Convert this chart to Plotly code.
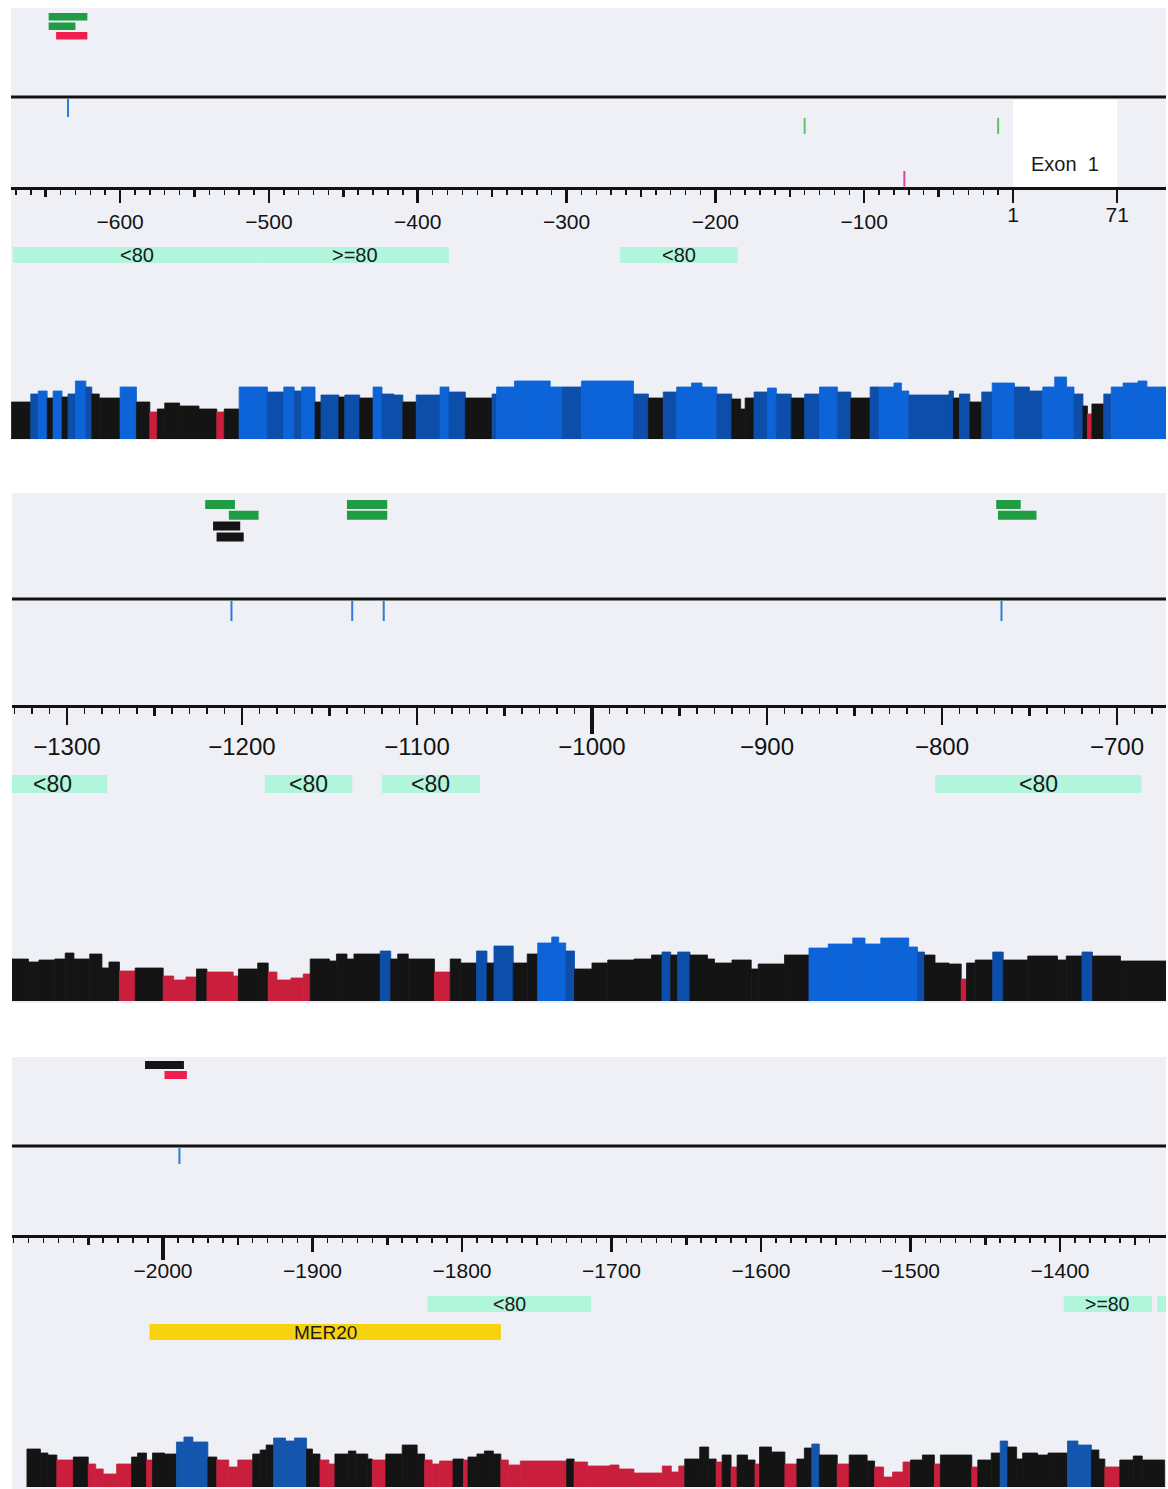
import plotly.graph_objects as go

W, H = 1168, 1489

# ====================== DATA ======================
# Panel A  (axis value 0 = position +1, i.e. 70 = +71)
a_tick_vals = [-600, -500, -400, -300, -200, -100]
a_tick_text = ["−600", "−500", "−400", "−300", "−200", "−100"]
a_exon_tick_vals = [0, 70]
a_exon_tick_text = ["1", "71"]
a_seg_start = [-673, -660, -655, -649, -645, -639, -635, -630, -623, -619, -614, -600, -589, -580, -575,
               -570, -560, -547, -535, -530, -520, -501, -490, -483, -478, -469, -465, -453, -449, -439,
               -430, -424, -416, -410, -401, -385, -379, -368, -350, -347, -335, -311, -303, -290, -255,
               -245, -235, -226, -216, -209, -199, -189, -183, -180, -174, -165, -159, -149, -140, -130,
               -118, -109, -96, -90, -80, -75, -70, -43, -40, -36, -29, -21, -14, 1, 11,
               20, 28, 36, 41, 47, 50, 53, 61, 66, 74, 84, 90]
a_seg_height = [37, 45, 48, 41, 48, 42, 45, 58, 52, 45, 41, 52, 37, 27, 30,
                36, 33, 30, 27, 30, 52, 47, 52, 48, 52, 37, 44, 42, 44, 41,
                52, 45, 44, 37, 44, 52, 47, 41, 45, 52, 58, 52, 52, 58, 45,
                41, 47, 52, 56, 52, 45, 40, 30, 41, 47, 51, 45, 41, 45, 52,
                47, 41, 52, 52, 56, 48, 44, 48, 41, 45, 37, 47, 56, 52, 48,
                52, 62, 52, 45, 33, 25, 35, 45, 52, 56, 58, 52]
a_seg_class = ["K", "D", "B", "K", "B", "K", "D", "B", "D", "K", "K", "B", "K", "R", "K",
               "K", "K", "K", "R", "K", "B", "D", "B", "D", "B", "K", "D", "K", "D", "K",
               "B", "D", "D", "K", "D", "B", "D", "K", "D", "B", "B", "B", "D", "B", "D",
               "K", "D", "B", "B", "B", "D", "K", "K", "K", "D", "B", "D", "K", "D", "B",
               "D", "K", "D", "B", "B", "B", "D", "D", "K", "D", "K", "D", "B", "D", "D",
               "B", "B", "B", "D", "K", "R", "K", "D", "B", "B", "B", "B"]
a_seg_stop = 103
a_site_start = [-648, -648, -643]
a_site_end = [-622, -630, -622]
a_site_class = ["G", "G", "R"]
a_site_row = [0, 1, 2]
a_snp = [-635]
a_green_mark = [-140, -10]
a_pink_mark = [-73]
a_exon_start, a_exon_end, a_exon_label = 0, 70, "Exon  1"
a_cons_start = [-672, -505, -264]
a_cons_end = [-505, -379, -185]
a_cons_label = ["<80", ">=80", "<80"]

# Panel B
b_tick_vals = [-1300, -1200, -1100, -1000, -900, -800, -700]
b_tick_text = ["−1300", "−1200", "−1100", "−1000", "−900", "−800", "−700"]
b_seg_start = [-1332, -1322, -1316, -1307, -1301, -1296, -1287, -1280, -1276, -1270, -1261, -1245, -1239, -1232, -1226,
               -1220, -1205, -1202, -1191, -1185, -1180, -1172, -1165, -1161, -1150, -1146, -1140, -1136, -1121, -1115,
               -1111, -1105, -1090, -1081, -1075, -1066, -1060, -1056, -1045, -1037, -1031, -1023, -1019, -1015, -1010,
               -1000, -991, -976, -966, -960, -955, -951, -944, -934, -930, -920, -909, -905, -890, -876,
               -865, -851, -844, -835, -819, -814, -810, -804, -796, -789, -786, -781, -771, -765, -751,
               -734, -729, -720, -714, -698]
b_seg_height = [42, 39, 41, 42, 48, 42, 47, 33, 39, 30, 33, 25, 21, 24, 32,
                29, 25, 32, 38, 29, 21, 23, 27, 42, 40, 47, 42, 47, 50, 42,
                47, 42, 29, 42, 38, 50, 38, 55, 38, 47, 58, 64, 58, 50, 32,
                38, 41, 42, 46, 49, 46, 49, 46, 42, 38, 41, 32, 37, 46, 53,
                57, 63, 57, 63, 54, 49, 46, 38, 37, 22, 38, 41, 49, 41, 45,
                41, 45, 49, 45, 40]
b_seg_class = ["K", "K", "K", "K", "K", "K", "K", "K", "K", "R", "K", "R", "R", "R", "K",
               "R", "R", "K", "K", "R", "R", "R", "R", "K", "K", "K", "K", "K", "D", "K",
               "K", "K", "R", "K", "K", "D", "K", "D", "K", "K", "B", "B", "B", "D", "K",
               "K", "K", "K", "K", "D", "K", "D", "K", "K", "K", "K", "K", "K", "K", "B",
               "B", "B", "B", "B", "B", "D", "K", "K", "K", "R", "K", "K", "D", "K", "K",
               "K", "K", "D", "K", "K"]
b_seg_stop = -672
b_site_start = [-1221, -1207.5, -1216.5, -1214.5, -1140, -1140, -769, -768]
b_site_end = [-1204, -1190.5, -1201, -1199, -1117, -1117, -755, -746]
b_site_class = ["G", "G", "K", "K", "G", "G", "G", "G"]
b_site_row = [0, 1, 2, 3, 0, 1, 0, 1]
b_snp = [-1206, -1137, -1119, -766]
b_cons_start = [-1340, -1187, -1120, -804]
b_cons_end = [-1277, -1137, -1064, -686]
b_cons_label = ["<80", "<80", "<80", "<80"]

# Panel C
c_tick_vals = [-2000, -1900, -1800, -1700, -1600, -1500, -1400]
c_tick_text = ["−2000", "−1900", "−1800", "−1700", "−1600", "−1500", "−1400"]
c_seg_start = [-2091, -2082, -2077, -2071, -2060, -2050, -2045, -2040, -2031, -2021, -2017, -2011, -2007, -1999, -1991,
               -1986, -1980, -1970, -1964, -1956, -1950, -1940, -1935, -1931, -1926, -1918, -1912, -1904, -1900, -1895,
               -1889, -1885, -1876, -1871, -1863, -1860, -1851, -1840, -1830, -1825, -1820, -1815, -1806, -1799, -1796,
               -1790, -1785, -1779, -1774, -1769, -1761, -1730, -1725, -1716, -1701, -1695, -1685, -1666, -1660, -1655,
               -1651, -1641, -1635, -1630, -1626, -1620, -1616, -1609, -1604, -1601, -1593, -1584, -1576, -1571, -1566,
               -1561, -1549, -1541, -1529, -1524, -1518, -1512, -1505, -1500, -1492, -1484, -1480, -1459, -1455, -1446,
               -1440, -1435, -1429, -1425, -1415, -1408, -1395, -1388, -1379, -1374, -1370, -1360, -1351, -1345]
c_seg_height = [38, 34, 32, 27, 30, 23, 18, 13, 23, 30, 34, 27, 34, 33, 45,
                50, 45, 30, 27, 20, 27, 33, 37, 42, 49, 46, 49, 38, 33, 27,
                23, 33, 36, 33, 28, 27, 33, 42, 33, 27, 23, 26, 28, 27, 30,
                33, 36, 33, 27, 22, 26, 28, 25, 21, 22, 18, 14, 21, 15, 21,
                28, 40, 28, 25, 32, 20, 32, 27, 23, 40, 35, 23, 28, 39, 43,
                32, 23, 32, 26, 20, 10, 15, 25, 27, 32, 23, 32, 20, 27, 34,
                46, 40, 28, 34, 32, 34, 46, 42, 37, 28, 20, 27, 31, 27]
c_seg_class = ["K", "K", "K", "R", "K", "R", "R", "R", "R", "K", "K", "R", "K", "K", "D",
               "D", "D", "K", "R", "R", "R", "K", "K", "K", "D", "D", "D", "K", "K", "R",
               "R", "K", "K", "K", "K", "R", "K", "K", "K", "R", "R", "R", "K", "R", "K",
               "K", "K", "K", "R", "R", "R", "K", "R", "R", "R", "R", "R", "R", "R", "R",
               "K", "K", "K", "R", "K", "R", "K", "K", "R", "K", "K", "R", "K", "K", "D",
               "K", "R", "K", "K", "R", "R", "R", "R", "K", "K", "R", "K", "R", "K", "K",
               "D", "K", "K", "K", "K", "K", "D", "D", "K", "K", "R", "K", "K", "K"]
c_seg_stop = -1330
c_site_start = [-2012, -1999]
c_site_end = [-1986, -1984]
c_site_class = ["K", "R"]
c_site_row = [0, 1]
c_snp = [-1989]
c_cons_start = [-1823, -1397.5, -1335]
c_cons_end = [-1713.5, -1338.5, -1300]
c_cons_label = ["<80", ">=80", ">=80"]
c_rep_start = [-2009]
c_rep_end = [-1774]
c_rep_label = ["MER20"]

# ====================== STYLE / LAYOUT ======================
FONT = "Liberation Sans, Arial, sans-serif"
BG = "#eef0f5"
INK = "#121212"
SEG_COL = {"K": "#141414", "B": "#0d63d8", "D": "#0c4ea9", "R": "#c91f3d"}
SEG_COL_C = {"K": "#141414", "B": "#1456ad", "D": "#1456ad", "R": "#c91f3d"}
SITE_COL = {"G": "#1f9c44", "R": "#ef1e4d", "K": "#141414"}
CYAN = "#b1f5dd"
YELLOW = "#f8d20f"


def fx(px):
    return px / W


def fy(px):
    return 1 - px / H


panels = [
    dict(xa="x", xkey="xaxis", yt="y", ytk="yaxis", yb="y2", ybk="yaxis2",
         mid_x="x4", mid_key="xaxis4", long_x=None,
         xpx=(11, 1166), rng=[-673.3, 102.8], bg=(8, 440), top=8, axis=188, seq=97,
         site_top=13, site_step=9.5, site_h=7.5, snp=(99, 117), cons=(247, 263),
         base=439, hmax=70, font=21, lfont=20, ticklen=13, minlen=5, midlen=7, standoff=1,
         ticks=(a_tick_vals, a_tick_text), minor=[v for v in range(-670, 0, 10)],
         mids=[v for v in range(-650, 0, 100)], longs=[],
         seg=(a_seg_start, a_seg_height, a_seg_class, a_seg_stop), pal=SEG_COL,
         site=(a_site_start, a_site_end, a_site_class, a_site_row), snps=a_snp,
         cons_data=(a_cons_start, a_cons_end, a_cons_label)),
    dict(xa="x2", xkey="xaxis2", yt="y3", ytk="yaxis3", yb="y4", ybk="yaxis4",
         mid_x="x5", mid_key="xaxis5", long_x="x7", long_key="xaxis7", longlen=26,
         xpx=(12, 1166), rng=[-1331.4, -672.0], bg=(493, 1003), top=493, axis=706, seq=599,
         site_top=500, site_step=10.8, site_h=9, snp=(601, 621), cons=(775, 793),
         base=1001, hmax=72, font=24, lfont=23, ticklen=17, minlen=6, midlen=8, standoff=2,
         ticks=(b_tick_vals, b_tick_text), minor=[v for v in range(-1330, -670, 10)],
         mids=[v for v in range(-1250, -672, 100)], longs=[-1000],
         seg=(b_seg_start, b_seg_height, b_seg_class, b_seg_stop), pal=SEG_COL,
         site=(b_site_start, b_site_end, b_site_class, b_site_row), snps=b_snp,
         cons_data=(b_cons_start, b_cons_end, b_cons_label)),
    dict(xa="x3", xkey="xaxis3", yt="y5", ytk="yaxis5", yb="y6", ybk="yaxis6",
         mid_x="x6", mid_key="xaxis6", long_x="x8", long_key="xaxis8", longlen=22,
         xpx=(12, 1166), rng=[-2101.0, -1329.1], bg=(1057, 1489), top=1057, axis=1236, seq=1146,
         site_top=1061, site_step=10, site_h=8, snp=(1148, 1164), cons=(1296, 1312),
         base=1487, hmax=60, font=21, lfont=19.5, ticklen=14, minlen=5, midlen=7, standoff=1,
         ticks=(c_tick_vals, c_tick_text), minor=[v for v in range(-2100, -1330, 10)],
         mids=[v for v in range(-2050, -1330, 100)], longs=[-2000],
         seg=(c_seg_start, c_seg_height, c_seg_class, c_seg_stop), pal=SEG_COL_C,
         site=(c_site_start, c_site_end, c_site_class, c_site_row), snps=c_snp,
         cons_data=(c_cons_start, c_cons_end, c_cons_label)),
]

fig = go.Figure()
shapes = []
annotations = []
layout_axes = {}


def overlay(over, anchor, rng, vals, ln, wd):
    return dict(overlaying=over, anchor=anchor, range=rng, side="bottom", showline=True, linewidth=3,
                linecolor=INK, ticks="outside", tickmode="array", tickvals=vals, ticklen=ln, tickwidth=wd,
                tickcolor=INK, showticklabels=False, showgrid=False, zeroline=False, fixedrange=True)


def vmarks(xs, y0, y1, color, xa, ya, width=2):
    xx, yy = [], []
    for v in xs:
        xx += [v, v, None]
        yy += [y0, y1, None]
    return go.Scatter(x=xx, y=yy, mode="lines", line=dict(color=color, width=width),
                      xaxis=xa, yaxis=ya, hoverinfo="skip", showlegend=False)


for p in panels:
    x0p, x1p = p["xpx"]
    rng = p["rng"]
    top = p["top"]
    th = p["axis"] - 1.5 - top
    # panel background
    shapes.append(dict(type="rect", xref="paper", yref="paper", x0=fx(x0p), x1=fx(x1p),
                       y0=fy(p["bg"][1]), y1=fy(p["bg"][0]), fillcolor=BG, line_width=0, layer="below"))
    # axes
    tv, tt = p["ticks"]
    layout_axes[p["xkey"]] = dict(
        range=rng, domain=[fx(x0p), fx(x1p)], anchor=p["yt"], showline=True, linewidth=3,
        linecolor=INK, ticks="outside", ticklen=p["ticklen"], tickwidth=2.5, tickcolor=INK,
        tickmode="array", tickvals=tv, ticktext=tt,
        tickfont=dict(family=FONT, size=p["font"], color=INK),
        showgrid=False, zeroline=False, fixedrange=True, ticklabelstandoff=p["standoff"],
        minor=dict(tickmode="array", tickvals=p["minor"], ticks="outside", ticklen=p["minlen"],
                   tickwidth=1.5, tickcolor=INK, showgrid=False))
    layout_axes[p["mid_key"]] = overlay(p["xa"], p["yt"], rng, p["mids"], p["midlen"], 2.5)
    if p["long_x"]:
        layout_axes[p["long_key"]] = overlay(p["xa"], p["yt"], rng, p["longs"], p["longlen"], 3.5)
    layout_axes[p["ytk"]] = dict(domain=[fy(p["axis"] - 1.5), fy(top)], range=[th, 0],
                                 visible=False, fixedrange=True)
    layout_axes[p["ybk"]] = dict(domain=[fy(p["base"]), fy(p["base"] - p["hmax"])], range=[0, p["hmax"]],
                                 visible=False, fixedrange=True)
    # sequence line (on the 50-bp tick overlay axis)
    fig.add_trace(go.Scatter(x=rng, y=[p["seq"] - top] * 2, mode="lines", line=dict(color=INK, width=3),
                             xaxis=p["mid_x"], yaxis=p["yt"], hoverinfo="skip", showlegend=False))
    # snp ticks (main axis)
    fig.add_trace(vmarks(p["snps"], p["snp"][0] - top, p["snp"][1] - top, "#2b7ed6", p["xa"], p["yt"]))
    # binding sites as horizontal bars
    ss, se, sc, sr = p["site"]
    fig.add_trace(go.Bar(
        y=[p["site_top"] - top + r * p["site_step"] + p["site_h"] / 2 for r in sr],
        x=[e - s for s, e in zip(ss, se)], base=ss, orientation="h", width=p["site_h"],
        marker=dict(color=[SITE_COL[c] for c in sc], line_width=0),
        xaxis=p["long_x"] or p["xa"], yaxis=p["yt"], hoverinfo="skip", showlegend=False))
    # conserved-region boxes
    cs, ce, cl = p["cons_data"]
    for s, e, lab in zip(cs, ce, cl):
        shapes.append(dict(type="rect", xref=p["xa"], yref="paper", x0=max(s, rng[0]), x1=min(e, rng[1]),
                           y0=fy(p["cons"][1]), y1=fy(p["cons"][0]), fillcolor=CYAN, line_width=0))
        mid = (s + e) / 2
        if rng[0] < mid < rng[1]:
            annotations.append(dict(x=mid, y=fy((p["cons"][0] + p["cons"][1]) / 2), xref=p["xa"], yref="paper",
                                    text=lab.replace("<", "&lt;").replace(">", "&gt;"), showarrow=False,
                                    font=dict(family=FONT, size=p["lfont"], color="#1a1a1a"),
                                    xanchor="center", yanchor="middle"))
    # conservation profile
    st, hh, cc, stop = p["seg"]
    ends = st[1:] + [stop]
    centers = [(a + b) / 2 for a, b in zip(st, ends)]
    widths = [b - a for a, b in zip(st, ends)]
    cols = [p["pal"][c] for c in cc]
    fig.add_trace(go.Bar(x=centers, y=hh, width=widths, xaxis=p["xa"], yaxis=p["yb"],
                         marker=dict(color=cols, line=dict(color=cols, width=0.8)),
                         hoverinfo="skip", showlegend=False))

# Panel A extras: exon box, exon coordinate ticks, green and pink marks
pa = panels[0]
layout_axes["xaxis9"] = dict(
    overlaying="x", anchor="y", range=pa["rng"], side="bottom", showline=True, linewidth=3, linecolor=INK,
    ticks="outside", tickmode="array", tickvals=a_exon_tick_vals, ticktext=a_exon_tick_text,
    ticklen=13, tickwidth=2.5, tickcolor=INK, ticklabelstandoff=-6,
    tickfont=dict(family=FONT, size=21, color=INK),
    showgrid=False, zeroline=False, fixedrange=True)
shapes.append(dict(type="rect", xref="x", yref="paper", x0=a_exon_start, x1=a_exon_end,
                   y0=fy(188), y1=fy(100), fillcolor="#ffffff", line_width=0, layer="below"))
annotations.append(dict(x=(a_exon_start + a_exon_end) / 2, y=fy(164), xref="x", yref="paper", text=a_exon_label,
                        showarrow=False, xanchor="center", yanchor="middle",
                        font=dict(family=FONT, size=20, color="#1a1a1a")))
fig.add_trace(vmarks(a_green_mark, 118 - pa["top"], 134 - pa["top"], "#5cc46f", "x9", "y"))
fig.add_trace(vmarks(a_pink_mark, 171 - pa["top"], 187 - pa["top"], "#e03fae", "x", "y"))

# Panel C extras: repeat element
for s, e, lab in zip(c_rep_start, c_rep_end, c_rep_label):
    shapes.append(dict(type="rect", xref="x3", yref="paper", x0=s, x1=e, y0=fy(1340), y1=fy(1324),
                       fillcolor=YELLOW, line_width=0))
    annotations.append(dict(x=(s + e) / 2, y=fy(1332), xref="x3", yref="paper", text=lab, showarrow=False,
                            xanchor="center", yanchor="middle",
                            font=dict(family=FONT, size=19, color="#1a1a1a")))

fig.update_layout(
    width=W, height=H, margin=dict(l=0, r=0, t=0, b=0),
    paper_bgcolor="#ffffff", plot_bgcolor="rgba(0,0,0,0)",
    barmode="overlay", showlegend=False,
    shapes=shapes, annotations=annotations, **layout_axes)

fig.write_html("out.html", post_script="document.body.style.margin='0';",
               config={"displayModeBar": False, "staticPlot": True})
